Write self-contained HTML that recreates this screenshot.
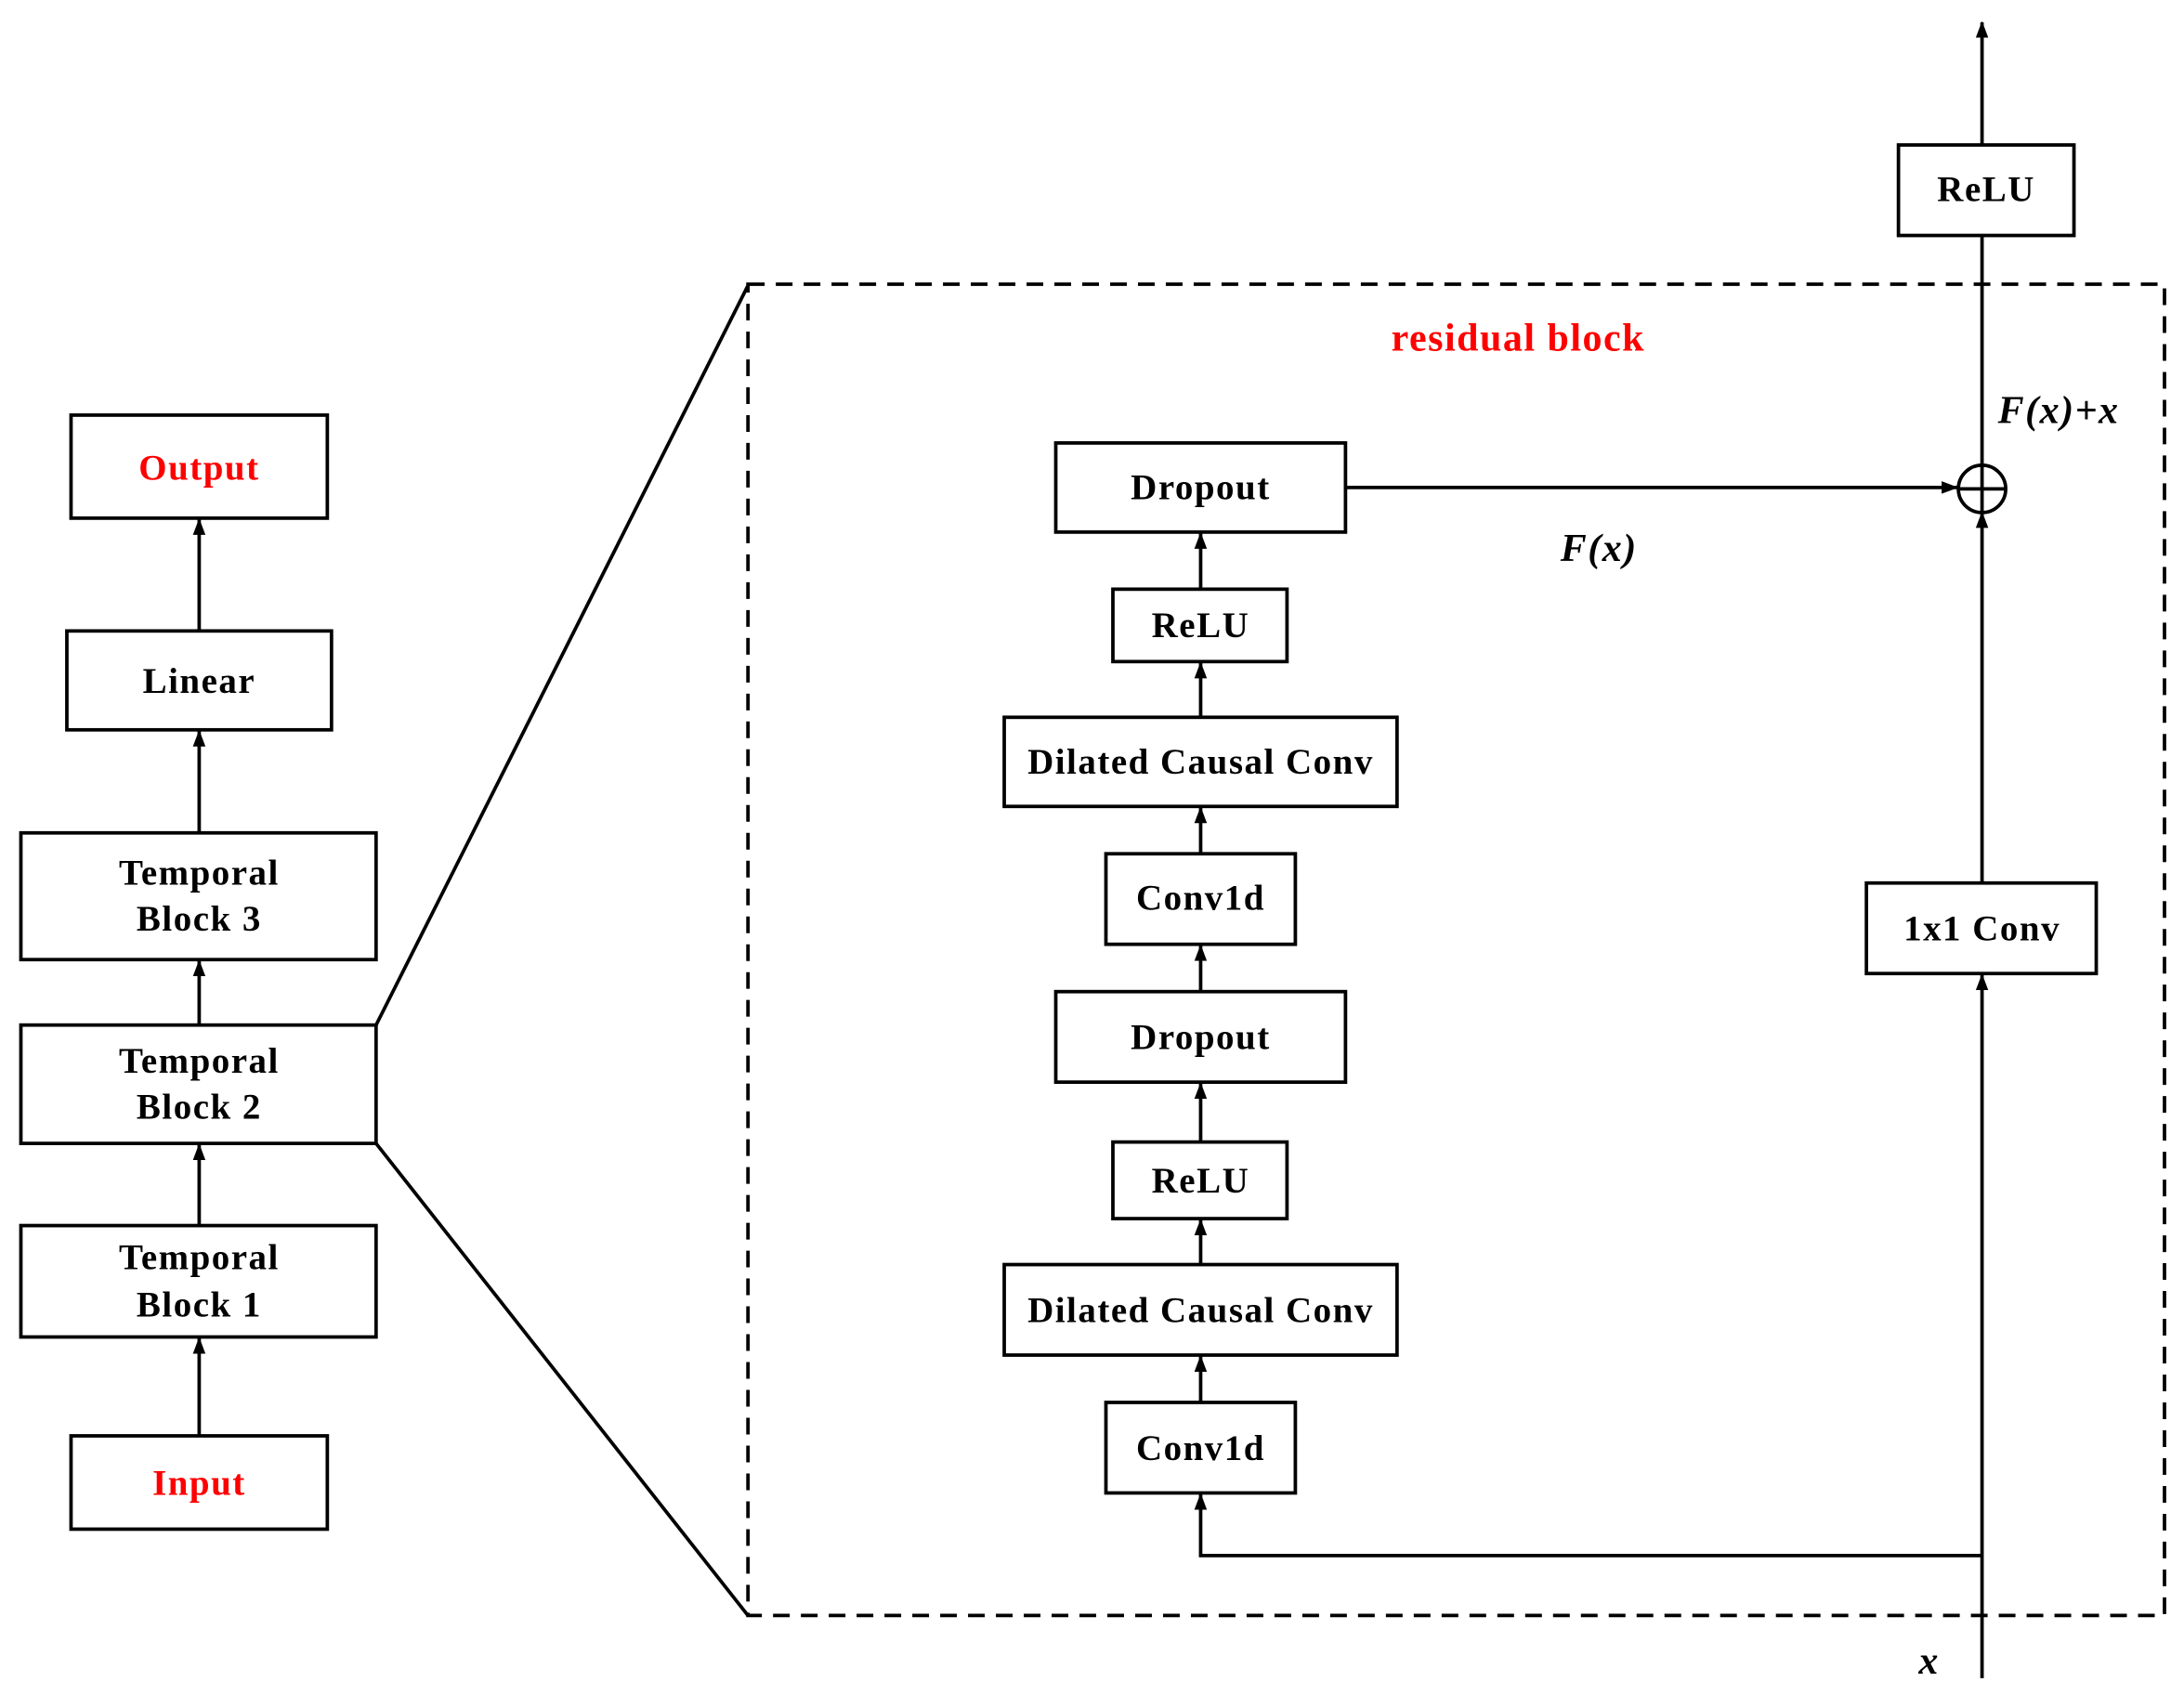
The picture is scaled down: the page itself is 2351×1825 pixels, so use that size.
<!DOCTYPE html>
<html><head><style>body{margin:0;background:#fff}svg{display:block}</style></head><body>
<svg width="2351" height="1825" viewBox="0 0 1568 1217" xmlns="http://www.w3.org/2000/svg" font-family="'Liberation Serif',serif" font-weight="bold" font-size="26" letter-spacing="1">
<defs><marker id="a" markerWidth="12" markerHeight="12" refX="11" refY="6" orient="auto" markerUnits="userSpaceOnUse"><path d="M0,1.5 L12,6 L0,10.5 z" fill="#000"/></marker></defs>
<g fill="none" stroke="#000" stroke-width="2.5">
<rect x="51" y="298" width="184" height="74"/>
<rect x="48" y="453" width="190" height="71"/>
<rect x="15" y="598" width="255" height="91"/>
<rect x="15" y="736" width="255" height="85"/>
<rect x="15" y="880" width="255" height="80"/>
<rect x="51" y="1031" width="184" height="67"/>
<line x1="143" y1="453" x2="143" y2="373" marker-end="url(#a)"/>
<line x1="143" y1="598" x2="143" y2="525" marker-end="url(#a)"/>
<line x1="143" y1="736" x2="143" y2="690" marker-end="url(#a)"/>
<line x1="143" y1="880" x2="143" y2="822" marker-end="url(#a)"/>
<line x1="143" y1="1031" x2="143" y2="961" marker-end="url(#a)"/>
<line x1="270" y1="736" x2="537" y2="205"/>
<line x1="270" y1="821" x2="537" y2="1160"/>
<rect x="537" y="204" width="1017" height="956" stroke-dasharray="12,8"/>
<rect x="758" y="318" width="208" height="64"/>
<rect x="799" y="423" width="125" height="52"/>
<rect x="721" y="515" width="282" height="64"/>
<rect x="794" y="613" width="136" height="65"/>
<rect x="758" y="712" width="208" height="65"/>
<rect x="799" y="820" width="125" height="55"/>
<rect x="721" y="908" width="282" height="65"/>
<rect x="794" y="1007" width="136" height="65"/>
<line x1="862" y1="423" x2="862" y2="383" marker-end="url(#a)"/>
<line x1="862" y1="515" x2="862" y2="476" marker-end="url(#a)"/>
<line x1="862" y1="613" x2="862" y2="580" marker-end="url(#a)"/>
<line x1="862" y1="712" x2="862" y2="679" marker-end="url(#a)"/>
<line x1="862" y1="820" x2="862" y2="778" marker-end="url(#a)"/>
<line x1="862" y1="908" x2="862" y2="876" marker-end="url(#a)"/>
<line x1="862" y1="1007" x2="862" y2="974" marker-end="url(#a)"/>
<polyline points="1423,1117 862,1117 862,1073" marker-end="url(#a)"/>
<line x1="1423" y1="1205" x2="1423" y2="700" marker-end="url(#a)"/>
<line x1="1423" y1="634" x2="1423" y2="368" marker-end="url(#a)"/>
<line x1="966" y1="350" x2="1405" y2="350" marker-end="url(#a)"/>
<circle cx="1423" cy="351" r="17"/>
<line x1="1406" y1="351" x2="1440" y2="351"/>
<line x1="1423" y1="334" x2="1423" y2="368"/>
<line x1="1423" y1="334" x2="1423" y2="169"/>
<line x1="1423" y1="104" x2="1423" y2="16" marker-end="url(#a)"/>
<rect x="1363" y="104" width="126" height="65"/>
<rect x="1340" y="634" width="165" height="65"/>
</g>
<g text-anchor="middle" dominant-baseline="central">
<text x="143" y="336" fill="#f00">Output</text>
<text x="143" y="489">Linear</text>
<text x="143" y="627">Temporal</text><text x="143" y="660">Block 3</text>
<text x="143" y="762">Temporal</text><text x="143" y="795">Block 2</text>
<text x="143" y="903">Temporal</text><text x="143" y="937">Block 1</text>
<text x="143" y="1065" fill="#f00">Input</text>
<text x="1090" y="243" fill="#f00" font-size="28">residual block</text>
<text x="862" y="350">Dropout</text>
<text x="862" y="449">ReLU</text>
<text x="862" y="547">Dilated Causal Conv</text>
<text x="862" y="645">Conv1d</text>
<text x="862" y="745">Dropout</text>
<text x="862" y="848">ReLU</text>
<text x="862" y="941">Dilated Causal Conv</text>
<text x="862" y="1040">Conv1d</text>
<text x="1426" y="136">ReLU</text>
<text x="1423" y="667">1x1 Conv</text>
<text x="1148" y="394" font-style="italic" font-size="28">F(x)</text>
<text x="1478" y="295" font-style="italic" font-size="28">F(x)+x</text>
<text x="1385" y="1193" font-style="italic" font-size="28">x</text>
</g>
</svg>
</body></html>
